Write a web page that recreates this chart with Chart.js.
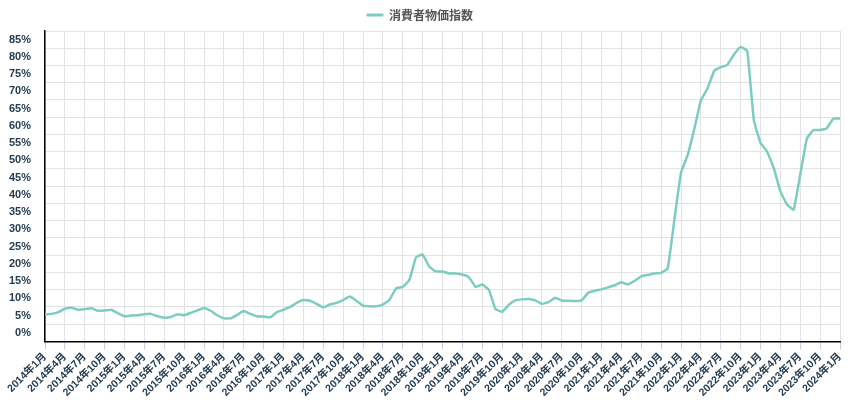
<!DOCTYPE html>
<html>
<head>
<meta charset="utf-8">
<script src="https://cdn.jsdelivr.net/npm/chart.js@4.4.0/dist/chart.umd.min.js"></script>
<style>
  html, body { margin: 0; padding: 0; background: #fff; }
  #wrap { width: 850px; height: 400px; }
</style>
</head>
<body>
<div id="wrap"><canvas id="c" width="850" height="400"></canvas></div>
<script>
// Categories: monthly, 2014年1月 .. 2024年1月
const startYear = 2014;
const monthCount = 121;
const categories = [];
for (let i = 0; i < monthCount; i++) {
  const y = startYear + Math.floor(i / 12);
  const m = (i % 12) + 1;
  categories.push(y + '年' + m + '月');
}

const seriesName = '消費者物価指数';

// Values (%)
const cpiValues = [
  5.4, 5.5, 6.0, 7.0, 7.3, 6.7, 6.9, 7.1, 6.4, 6.5, 6.7, 5.7,
  4.8, 5.0, 5.1, 5.4, 5.5, 4.8, 4.4, 4.6, 5.4, 5.1, 5.8, 6.5,
  7.2, 6.4, 5.1, 4.2, 4.2, 5.2, 6.3, 5.5, 4.8, 4.7, 4.5, 6.0,
  6.7, 7.5, 8.7, 9.5, 9.3, 8.4, 7.4, 8.2, 8.7, 9.5, 10.5, 9.3,
  7.9, 7.7, 7.7, 8.2, 9.6, 12.9, 13.3, 15.3, 21.9, 22.7, 19.2, 17.8,
  17.8, 17.2, 17.2, 16.9, 16.1, 13.3, 14.0, 12.5, 6.9, 6.1, 8.1, 9.4,
  9.7, 9.8, 9.4, 8.4, 8.9, 10.2, 9.4, 9.3, 9.2, 9.4, 11.6, 12.2,
  12.6, 13.2, 13.8, 14.7, 14.0, 15.1, 16.4, 16.8, 17.2, 17.4, 18.7, 32.8,
  46.4, 51.5, 59.0, 67.4, 70.8, 75.9, 77.0, 77.7, 80.7, 82.9, 81.7, 61.6,
  55.1, 52.5, 47.8, 41.0, 37.2, 35.7, 45.9, 56.3, 58.8, 58.8, 59.3, 62.1,
  62.1
];

// Y tick labels (%)
const yTickValues = [0,5,10,15,20,25,30,35,40,45,50,55,60,65,70,75,80,85];

const lineColor = '#7ccdc0';
const labelColor = '#253d52';
const fontFamily = "'Liberation Sans', 'Noto Sans CJK JP', Arial, sans-serif";

new Chart(document.getElementById('c'), {
  type: 'line',
  data: {
    labels: categories,
    datasets: [{
      label: seriesName,
      data: cpiValues,
      borderColor: lineColor,
      backgroundColor: lineColor,
      borderWidth: 2.5,
      pointRadius: 0,
      pointHoverRadius: 0,
      tension: 0.1,
      fill: false
    }]
  },
  options: {
    responsive: false,
    animation: false,
    devicePixelRatio: 1,
    layout: { padding: { top: 0, right: 10, bottom: 0, left: 0 } },
    plugins: {
      tooltip: { enabled: false },
      legend: {
        position: 'top',
        labels: {
          boxWidth: 16,
          boxHeight: 2,
          padding: 9,
          color: '#555',
          font: { family: "'Noto Sans CJK JP', sans-serif", size: 12, weight: 'bold' },
          generateLabels(chart) {
            const items = Chart.defaults.plugins.legend.labels.generateLabels(chart);
            items.forEach(it => { it.lineWidth = 1; it.fillStyle = lineColor; it.strokeStyle = lineColor; });
            return items;
          }
        }
      }
    },
    scales: {
      x: {
        offset: false,
        grid: {
          color: ctx => (ctx.index % 3 === 0 ? '#e2e2e2' : 'rgba(0,0,0,0)'),
          tickColor: ctx => (ctx.index % 3 === 0 ? '#c6d1e6' : 'rgba(0,0,0,0)'),
          tickLength: 8,
          lineWidth: 1
        },
        border: { color: '#000', width: 1.5 },
        ticks: {
          autoSkip: false,
          minRotation: 45,
          maxRotation: 45,
          padding: 1,
          color: labelColor,
          font: { family: fontFamily, size: 10.5, weight: 'bold' },
          callback: function (val, index) {
            return index % 3 === 0 ? this.getLabelForValue(val) : '';
          }
        }
      },
      y: {
        min: -2.5,
        max: 87.5,
        afterBuildTicks: scale => { scale.ticks = yTickValues.map(v => ({ value: v })); },
        afterFit: scale => { scale.width = 45; },
        grid: { color: '#e2e2e2', offset: true, drawTicks: false, lineWidth: 1 },
        border: { color: '#000', width: 1.5 },
        ticks: {
          padding: 14,
          color: labelColor,
          font: { family: fontFamily, size: 11, weight: 'bold' },
          callback: v => v + '%'
        }
      }
    }
  }
});
</script>
</body>
</html>
